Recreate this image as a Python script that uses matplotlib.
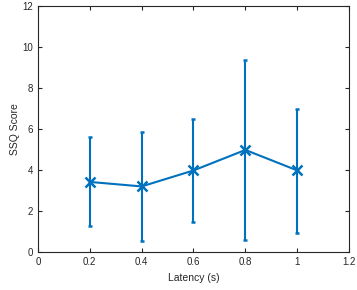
import matplotlib
matplotlib.use('Agg')
import matplotlib.pyplot as plt

latency = [0.2, 0.4, 0.6, 0.8, 1.0]
ssq_mean = [3.42, 3.2, 3.98, 4.98, 3.98]
ssq_upper = [5.6, 5.85, 6.5, 9.35, 7.0]
ssq_lower = [1.27, 0.55, 1.45, 0.6, 0.95]

err_low = [m - l for m, l in zip(ssq_mean, ssq_lower)]
err_high = [u - m for m, u in zip(ssq_mean, ssq_upper)]

plt.rcParams['font.family'] = ['Liberation Sans', 'DejaVu Sans']
plt.rcParams['font.size'] = 7

fig = plt.figure(figsize=(3.57, 2.9), dpi=100)
ax = fig.add_axes([0.106, 0.131, 0.872, 0.848])

blue = '#0072BD'
ax.errorbar(latency, ssq_mean, yerr=[err_low, err_high], color=blue,
            linewidth=1.5, marker='x', markersize=7, markeredgewidth=1.8,
            capsize=1.5, capthick=1.5, elinewidth=1.5)

ax.set_xlim(0, 1.2)
ax.set_ylim(0, 12)
ax.set_xticks([0, 0.2, 0.4, 0.6, 0.8, 1.0, 1.2])
ax.set_xticklabels(['0', '0.2', '0.4', '0.6', '0.8', '1', '1.2'])
ax.set_yticks([0, 2, 4, 6, 8, 10, 12])
ax.tick_params(direction='in', top=True, right=True, length=3, width=0.8,
               colors='#262626', labelsize=7)
for s in ax.spines.values():
    s.set_linewidth(0.8)
    s.set_color('#262626')

ax.set_xlabel('Latency (s)', fontsize=7.5, color='#262626', labelpad=4.5)
ax.set_ylabel('SSQ Score', fontsize=7.5, color='#262626', labelpad=1.5)

fig.savefig('out.png', dpi=100)
